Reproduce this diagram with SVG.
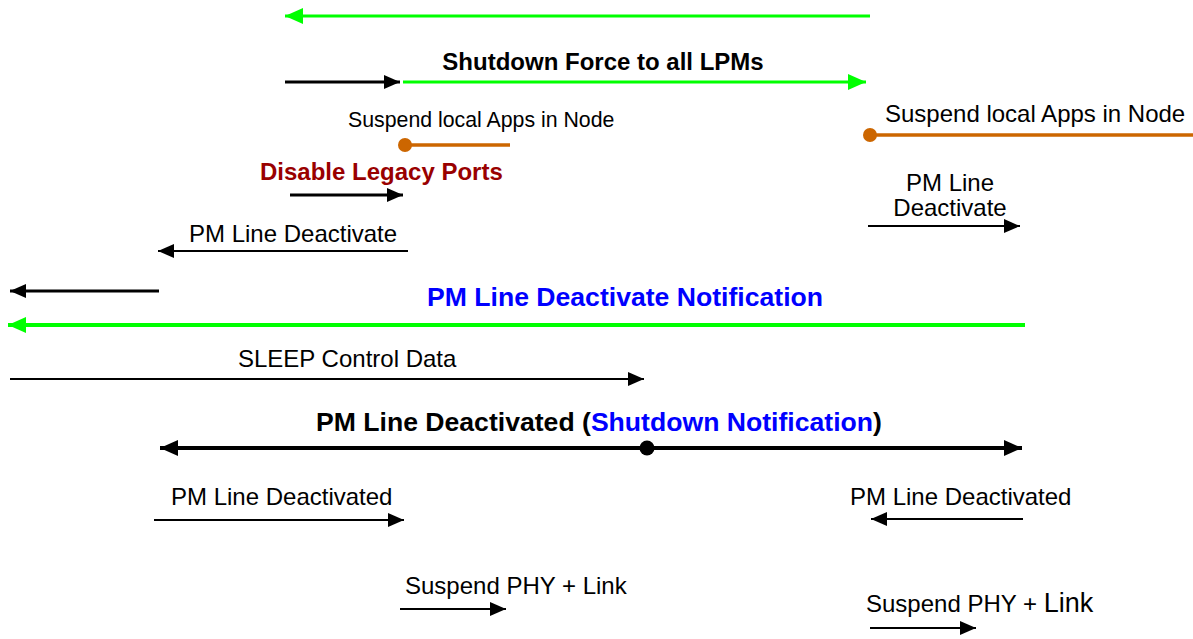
<svg xmlns="http://www.w3.org/2000/svg" width="1193" height="639" viewBox="0 0 1193 639">
<style>
text{font-family:"Liberation Sans",Arial,sans-serif;fill:#000}
.r{font-size:24px}
.b{font-size:24px;font-weight:bold}
.bb{font-size:26.6px;font-weight:bold}
.blue{fill:#0000FF}
.red{fill:#990000}
.k2{stroke:#000;stroke-width:2;fill:none}
.k3{stroke:#000;stroke-width:3;fill:none}
.k4{stroke:#000;stroke-width:4;fill:none}
.g3{stroke:#00FF00;stroke-width:3;fill:none}
.g4{stroke:#00FF00;stroke-width:4;fill:none}
.o{stroke:#CC6600;stroke-width:3.5;fill:none}
</style>
<defs>
<marker id="ak" markerUnits="userSpaceOnUse" markerWidth="16" markerHeight="14" refX="16" refY="7" orient="auto-start-reverse"><path d="M0,0 L16,7 L0,14 z" fill="#000"/></marker>
<marker id="akb" markerUnits="userSpaceOnUse" markerWidth="18" markerHeight="16" refX="18" refY="8" orient="auto-start-reverse"><path d="M0,0 L18,8 L0,16 z" fill="#000"/></marker>
<marker id="ag" markerUnits="userSpaceOnUse" markerWidth="18" markerHeight="16" refX="18" refY="8" orient="auto-start-reverse"><path d="M0,0 L18,8 L0,16 z" fill="#00FF00"/></marker>
</defs>
<g id="connectors">
<line class="g3" x1="870" y1="16" x2="285" y2="16" marker-end="url(#ag)"/>
<line class="k3" x1="285" y1="82" x2="400" y2="82" marker-end="url(#ak)"/>
<line class="g3" x1="403" y1="82" x2="866" y2="82" marker-end="url(#ag)"/>
<line class="o" x1="405" y1="145" x2="510" y2="145"/>
<circle cx="405" cy="145" r="7" fill="#CC6600"/>
<line class="o" x1="870" y1="135" x2="1193" y2="135"/>
<circle cx="870" cy="135" r="7" fill="#CC6600"/>
<line class="k3" x1="290" y1="195" x2="403" y2="195" marker-end="url(#ak)"/>
<line class="k2" x1="408" y1="251" x2="158" y2="251" marker-end="url(#ak)"/>
<line class="k2" x1="868" y1="226" x2="1020" y2="226" marker-end="url(#ak)"/>
<line class="k3" x1="159" y1="291" x2="10" y2="291" marker-end="url(#ak)"/>
<line class="g4" x1="1025" y1="325" x2="8" y2="325" marker-end="url(#ag)"/>
<line class="k2" x1="10" y1="379" x2="644" y2="379" marker-end="url(#ak)"/>
<line class="k4" x1="160" y1="448" x2="1022" y2="448" marker-start="url(#akb)" marker-end="url(#akb)"/>
<circle cx="647" cy="448" r="7.5" fill="#000"/>
<line class="k2" x1="154" y1="520" x2="404" y2="520" marker-end="url(#ak)"/>
<line class="k2" x1="1023" y1="519" x2="871" y2="519" marker-end="url(#ak)"/>
<line class="k2" x1="400" y1="609" x2="506" y2="609" marker-end="url(#ak)"/>
<line class="k2" x1="870" y1="628" x2="976" y2="628" marker-end="url(#ak)"/>
</g>
<g id="shutdown-force"><text class="b" x="603" y="70" text-anchor="middle">Shutdown Force to all LPMs</text></g>
<g id="suspend-apps-left"><text x="348" y="127" style="font-size:21.3px">Suspend local Apps in Node</text></g>
<g id="suspend-apps-right"><text class="r" x="885" y="122">Suspend local Apps in Node</text></g>
<g id="disable-legacy"><text class="b red" x="260" y="180">Disable Legacy Ports</text></g>
<g id="pm-line-deactivate-right"><text class="r" x="950" y="191" text-anchor="middle">PM Line</text><text class="r" x="950" y="216" text-anchor="middle">Deactivate</text></g>
<g id="pm-line-deactivate-left"><text class="r" x="189" y="242">PM Line Deactivate</text></g>
<g id="pm-notification"><text class="bb blue" x="427" y="306">PM Line Deactivate Notification</text></g>
<g id="sleep-control"><text class="r" x="238" y="367">SLEEP Control Data</text></g>
<g id="pm-deactivated-shutdown"><text class="bb" x="316" y="431">PM Line Deactivated (<tspan class="blue">Shutdown Notification</tspan>)</text></g>
<g id="pm-deactivated-left"><text class="r" x="171" y="505">PM Line Deactivated</text></g>
<g id="pm-deactivated-right"><text class="r" x="850" y="505">PM Line Deactivated</text></g>
<g id="suspend-phy-left"><text class="r" x="405" y="594">Suspend PHY + Link</text></g>
<g id="suspend-phy-right"><text class="r" x="866" y="612">Suspend PHY + <tspan style="font-size:27px">Link</tspan></text></g>
</svg>
